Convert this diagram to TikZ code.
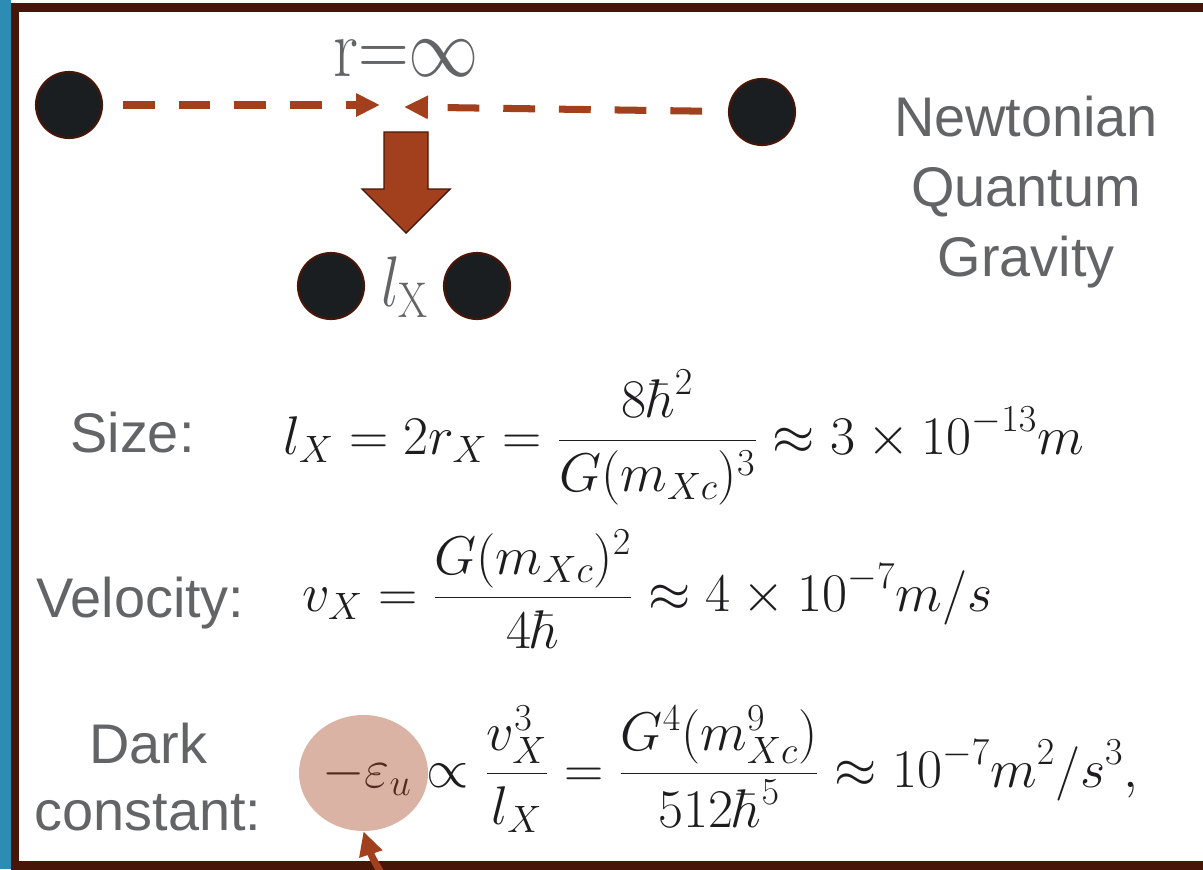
\RequirePackage{fix-cm}
\documentclass[tikz,border=0pt]{standalone}
\usepackage{fontspec}
\setsansfont{Liberation Sans}
\usepackage{amsmath}
\usepackage{graphicx}
\usetikzlibrary{shapes.geometric, arrows.meta, positioning}
\definecolor{cRust}{RGB}{162,64,30}
\definecolor{cBrown}{RGB}{72,22,8}
\definecolor{cGrey}{RGB}{99,100,102}
\definecolor{cInk}{RGB}{30,28,30}
\definecolor{cDot}{RGB}{27,30,32}
\definecolor{cSea}{RGB}{45,140,180}
\tikzset{
	mass/.style ={circle, draw=cBrown, line width=1.2pt, fill=cDot, minimum size=1.32cm, inner sep=0pt},
	pull/.style ={-{Triangle[length=13.6pt, width=12.5pt]}, cRust, line width=4pt, dash pattern=on 18.1pt off 13.6pt},
	lbl/.style  ={font=\sffamily\fontsize{31.8}{39.7}\selectfont, text=cGrey, align=center, inner sep=0pt},
	eqn/.style  ={font=\fontsize{31}{37}\selectfont, text=cInk, inner sep=0pt, anchor=base west},
	% highlight and pointer
	spot/.style ={ellipse, fill=cRust, fill opacity=0.4, minimum width=2.58cm, minimum height=2.32cm, inner sep=0pt},
	point/.style={-{Triangle[length=13.6pt, width=13pt]}, cRust, line width=4pt},
}

\begin{document}
\begin{tikzpicture}[x=0.02cm, y=-0.02cm]
	\useasboundingbox (0,0) rectangle (1203,869);
	% strip and frame
	\fill[cSea] (0,0) rectangle (11,869);
	\draw[cBrown, line width=4.6pt] (1203,7.5) -- (15,7.5) -- (15,865.5) -- (1203,865.5);

	% two masses pulled together
	\node[mass] (farL) at (69,105) {};
	\node[mass] (farR) at (762,112) {};
	\coordinate (meetL) at (380,105);
	\coordinate (meetR) at (404,107);
	\draw[pull, shorten <=11.3pt] (farL) -- (meetL);
	\draw[pull, shorten <=14.7pt] (farR) -- (meetR);
	\node[text=cGrey, font=\fontsize{40}{48}\selectfont, inner sep=0pt] (rinf) at (406,58) {\scalebox{1}[1.2]{r=$\infty$}};

	\draw[fill=cRust, draw=cBrown, line width=0.8pt] (384,132) -- (428,132) -- (428,189) -- (450,189) -- (406,233) -- (362,189) -- (384,189) -- cycle;

	\node[mass] (nearL) at (331,286) {};
	\node[mass] (nearR) at (477,286) {};
	\node[text=cGrey, font=\fontsize{34}{40}\selectfont, inner sep=0pt] (lx) at (405,287) {\scalebox{1}[1.2]{$l_{\mathrm{X}}$}};

	\node[lbl] (nqg) at (1026,192) {Newtonian\\Quantum\\Gravity};

	% formulas
	\node[lbl, anchor=base west] (size) at (70,452) {Size:};
	\node[eqn] (eqSize) at (283,454) {$\displaystyle l_X = 2r_X = \frac{8\hbar^2}{G(m_{Xc})^3} \approx 3\times10^{-13}m$};
	\node[lbl, anchor=base west] (vel) at (36,617) {Velocity:};
	\node[eqn] (eqVel) at (302,611) {$\displaystyle v_X = \frac{G(m_{Xc})^2}{4\hbar} \approx 4\times10^{-7}m/s$};
	\node[lbl, font=\sffamily\fontsize{31.8}{38}\selectfont] (dark) at (148,777) {Dark\\constant:};
	\node[eqn] (eqDark) at (322,787) {$\displaystyle -\varepsilon_u \propto \frac{v_X^3}{l_X} = \frac{G^4(m_{Xc}^9)}{512\hbar^5} \approx 10^{-7}m^2/s^3,$};

	\node[spot] (eps) at (363.5,773) {};
	\coordinate (tail) at (392,890);
	\draw[point] (tail) to[bend left=8] (eps.south);
\end{tikzpicture}
\end{document}
